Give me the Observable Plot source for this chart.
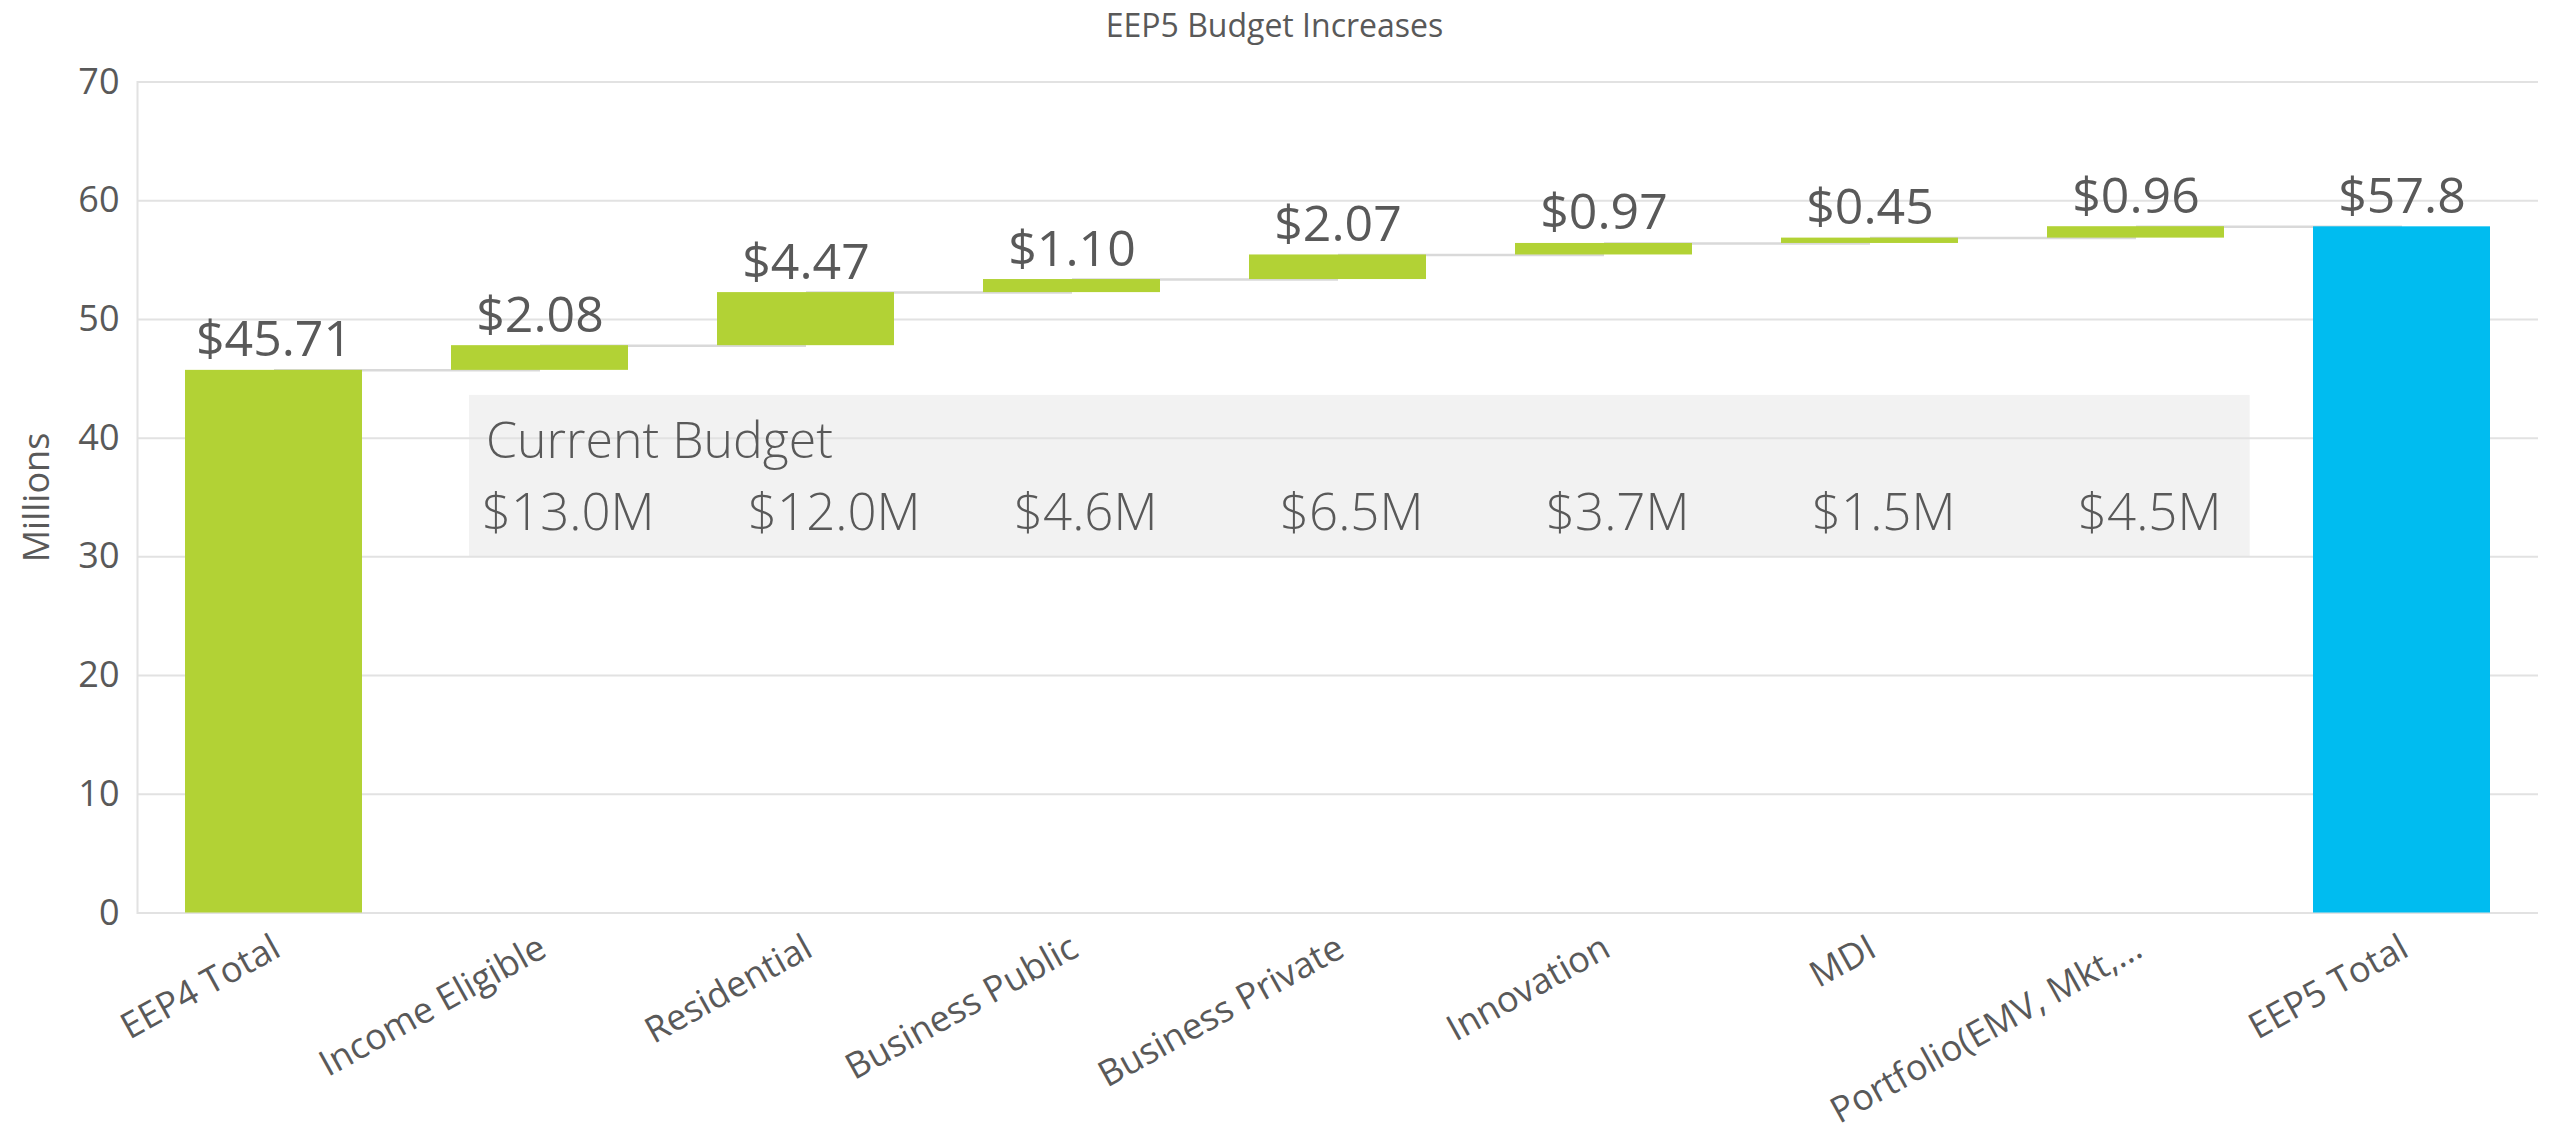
<!DOCTYPE html>
<html><head><meta charset="utf-8">
<script src="https://cdn.jsdelivr.net/npm/d3@7"></script>
<script src="https://cdn.jsdelivr.net/npm/@observablehq/plot@0.6"></script>
<style>
html,body{margin:0;padding:0;background:#fff;}
#title{height:50px;line-height:50px;text-align:center;font-family:"Open Sans",sans-serif;font-size:32px;color:#595959;white-space:nowrap;}
#chart svg{display:block;}
</style></head><body>
<div id="title">EEP5 Budget Increases</div>
<div id="chart"></div>
<script>
// ---- data ----
const categories = ["EEP4 Total", "Income Eligible", "Residential", "Business Public", "Business Private", "Innovation", "MDI", "Portfolio(EMV, Mkt,…", "EEP5 Total"];
const startTotal = 45.71;
const increments = [2.08, 4.47, 1.10, 2.07, 0.97, 0.45, 0.96];
const endTotal = 57.8;
const valueLabels = ["$45.71", "$2.08", "$4.47", "$1.10", "$2.07", "$0.97", "$0.45", "$0.96", "$57.8"];
const budgetCategories = ["Income Eligible", "Residential", "Business Public", "Business Private", "Innovation", "MDI", "Portfolio(EMV, Mkt,…"];
const budgetLabels = ["$13.0M", "$12.0M", "$4.6M", "$6.5M", "$3.7M", "$1.5M", "$4.5M"];
const budgetTitle = "Current Budget";
const yTicks = [0, 10, 20, 30, 40, 50, 60, 70];
const yLabel = "Millions";

// ---- layout ----
const W = 2549, H = 1095;
const mL = 137, mR = 11, mT = 31.5, mB = 232.5;
const step = (W - mL - mR) / 9;
const boxRange = {y1: 30, y2: 43.6};
const green = "#b2d235", blue = "#00bcf0", textColor = "#595959";

// ---- waterfall rows ----
let cum = startTotal;
const rows = [{cat: categories[0], y1: 0, y2: startTotal, label: valueLabels[0], total: true}];
increments.forEach((v, i) => {
  rows.push({cat: categories[i + 1], y1: cum, y2: cum + v, label: valueLabels[i + 1], total: false});
  cum += v;
});
rows.push({cat: categories[8], y1: 0, y2: endTotal, label: valueLabels[8], total: true, end: true});
const connectors = rows.slice(0, -1).map((r, i) => ({from: r.cat, to: rows[i + 1].cat, level: r.y2}));

const plot = Plot.plot({
  width: W, height: H,
  marginTop: mT, marginBottom: mB, marginLeft: mL, marginRight: mR,
  style: {fontFamily: "'Open Sans', sans-serif", color: textColor, background: "#fff"},
  x: {domain: categories, paddingInner: 1/3, paddingOuter: 1/6, label: null},
  y: {domain: [0, 70], ticks: yTicks, label: null},
  marks: [
    Plot.barY([budgetTitle], {x: () => budgetCategories[0], y1: boxRange.y1, y2: boxRange.y2, fill: "#f2f2f2",
      insetLeft: 18, insetRight: -(step * (budgetCategories.length - 1) + 21)}),
    Plot.gridY(yTicks, {stroke: "#e2e2e2", strokeOpacity: 1, strokeWidth: 2}),
    Plot.frame({anchor: "left", stroke: "#e2e2e2", strokeWidth: 2}),
    Plot.axisY(yTicks, {tickSize: 0, tickPadding: 18, fontSize: 36, color: textColor, label: null}),
    Plot.axisX({tickRotate: -29, tickSize: 0, tickPadding: 32, dx: 3, fontSize: 36, color: textColor, label: null}),
    Plot.link(connectors, {x1: "from", x2: "to", y1: "level", y2: "level", stroke: "#d9d9d9", strokeWidth: 2.5}),
    Plot.barY(rows.filter(d => !d.end), {x: "cat", y1: "y1", y2: "y2", fill: green}),
    Plot.barY(rows.filter(d => d.end), {x: "cat", y1: "y1", y2: "y2", fill: blue}),
    Plot.text(rows, {x: "cat", y: "y2", text: "label", dy: -14, lineAnchor: "bottom", fontSize: 50, fill: textColor}),
    Plot.text([budgetTitle], {x: () => budgetCategories[0], y: boxRange.y2, text: d => d, dy: 63, dx: -54,
      textAnchor: "start", lineAnchor: "bottom", fontSize: 50, fontWeight: 300, fill: textColor}),
    Plot.text(budgetCategories, {x: d => d, y: boxRange.y2, text: (d, i) => budgetLabels[i], dy: 135, dx: -58,
      textAnchor: "start", lineAnchor: "bottom", fontSize: 51, fontWeight: 300, fill: textColor}),
    Plot.text([yLabel], {frameAnchor: "left", text: d => d, rotate: -90, dx: -100, textAnchor: "middle", lineAnchor: "middle",
      fontSize: 36, fill: textColor, style: "letter-spacing:1.5px"})
  ]
});
document.getElementById("chart").appendChild(plot);
</script>
</body></html>
